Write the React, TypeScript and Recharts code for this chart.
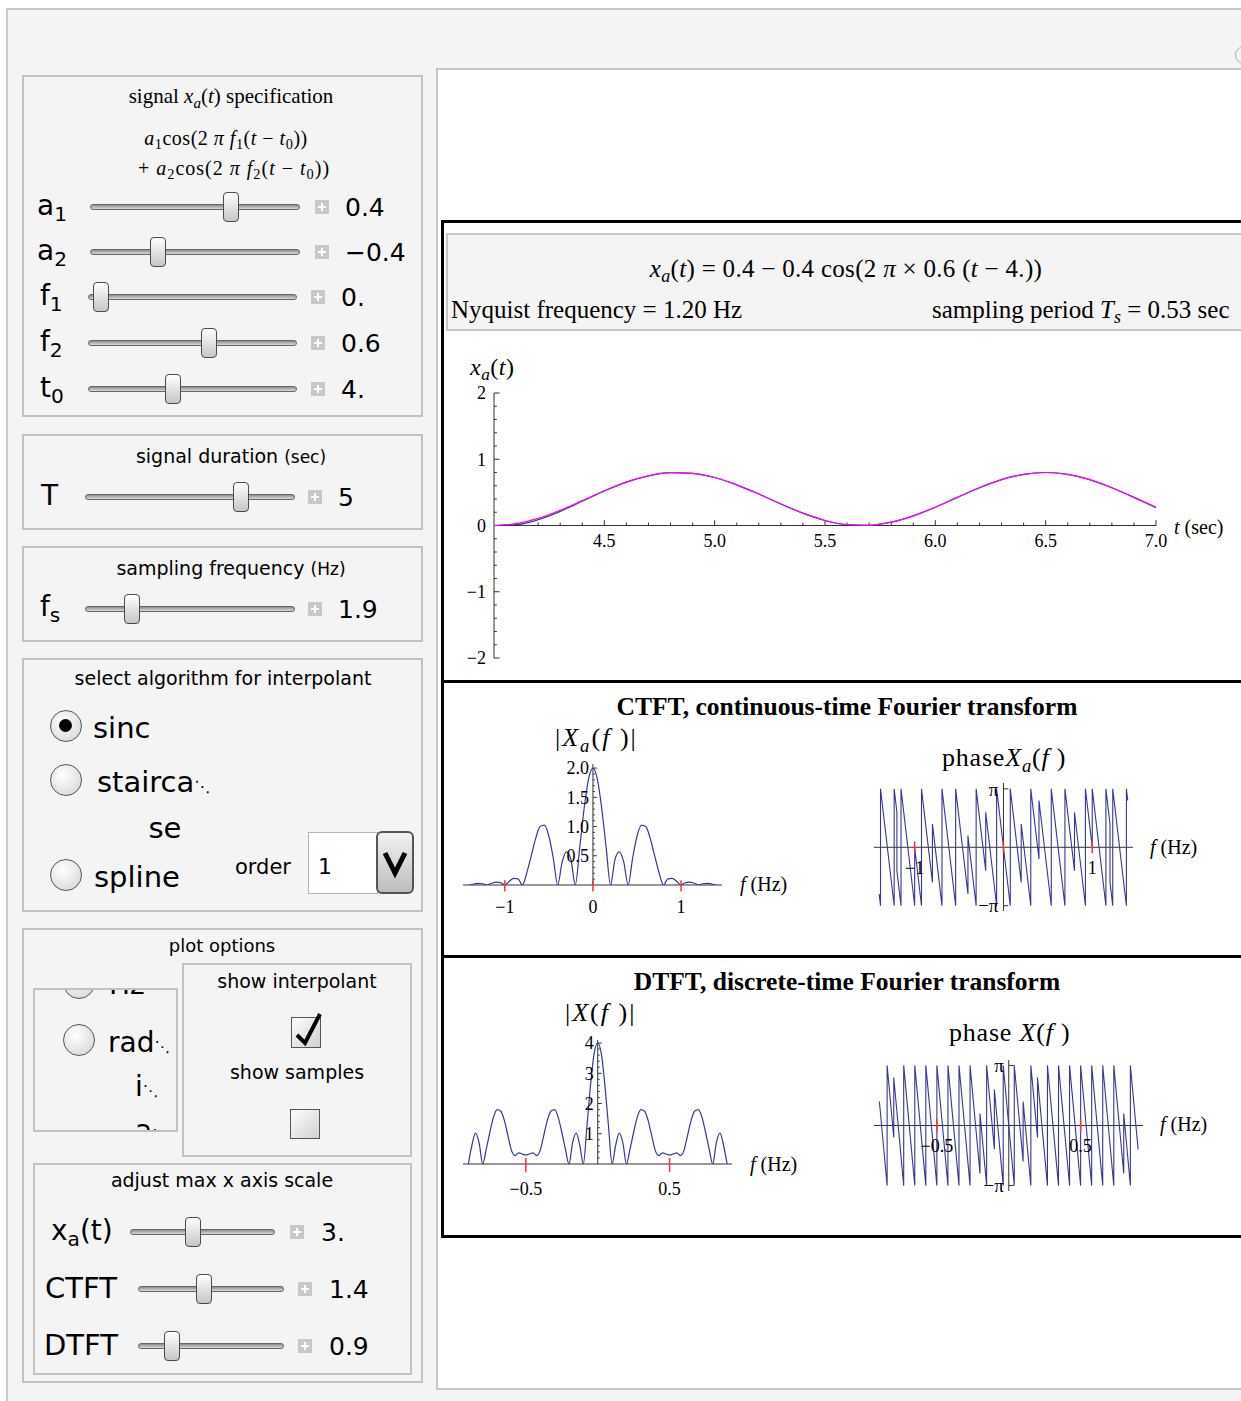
import React from "react";
import { LineChart, Line, XAxis, YAxis, ReferenceLine, ReferenceDot } from "recharts";

const SERIF = '"Liberation Serif", "Times New Roman", Times, serif';
const SANS = '"DejaVu Sans", Verdana, sans-serif';
const BLUE = "#37379a";
const MAGENTA = "#ff00ff";
const AXIS = "#333333";
const RED = "#ff3030";
const MINUS = "\u2212";

// x_a(t): original signal (magenta) and sinc interpolant (blue)
const tValues = [4.0, 4.1, 4.2, 4.3, 4.4, 4.5, 4.6, 4.7, 4.8, 4.9, 5.0, 5.1, 5.2, 5.3, 5.4, 5.5, 5.6, 5.7, 5.8, 5.9, 6.0, 6.1, 6.2, 6.3, 6.4, 6.5, 6.6, 6.7, 6.8, 6.9, 7.0];
const xaSignal = [0, 0.028, 0.108, 0.23, 0.375, 0.524, 0.655, 0.75, 0.797, 0.788, 0.724, 0.614, 0.475, 0.325, 0.186, 0.076, 0.012, 0.003, 0.05, 0.145, 0.276, 0.425, 0.57, 0.692, 0.772, 0.8, 0.772, 0.692, 0.57, 0.425, 0.276];
const xaInterp = [0, 0.012, 0.088, 0.214, 0.366, 0.52, 0.654, 0.75, 0.797, 0.788, 0.724, 0.614, 0.475, 0.325, 0.186, 0.076, 0.012, 0.003, 0.05, 0.145, 0.276, 0.425, 0.57, 0.692, 0.772, 0.8, 0.772, 0.692, 0.57, 0.425, 0.27];
const xaMajorT = [4.5, 5.0, 5.5, 6.0, 6.5, 7.0];
const xaMinorT = [4.1, 4.2, 4.3, 4.4, 4.6, 4.7, 4.8, 4.9, 5.1, 5.2, 5.3, 5.4, 5.6, 5.7, 5.8, 5.9, 6.1, 6.2, 6.3, 6.4, 6.6, 6.7, 6.8, 6.9];
const xaMajorY = [-2, -1, 0, 1, 2];
const xaMinorY = [-1.8, -1.6, -1.4, -1.2, -0.8, -0.6, -0.4, -0.2, 0.2, 0.4, 0.6, 0.8, 1.2, 1.4, 1.6, 1.8];

// CTFT magnitude
const ctftF = [-1.4, -1.35, -1.3, -1.25, -1.2, -1.15, -1.1, -1.05, -1.0, -0.95, -0.9, -0.85, -0.8, -0.75, -0.7, -0.65, -0.6, -0.55, -0.5, -0.45, -0.4, -0.35, -0.3, -0.25, -0.2, -0.15, -0.1, -0.05, 0, 0.05, 0.1, 0.15, 0.2, 0.25, 0.3, 0.35, 0.4, 0.45, 0.5, 0.55, 0.6, 0.65, 0.7, 0.75, 0.8, 0.85, 0.9, 0.95, 1.0, 1.05, 1.1, 1.15, 1.2, 1.25, 1.3, 1.35, 1.4];
const ctftMag = [0, 0.017, 0.027, 0.021, 0, 0.03, 0.048, 0.041, 0, 0.063, 0.113, 0.105, 0, 0.213, 0.504, 0.797, 1.0, 1.025, 0.834, 0.457, 0, 0.39, 0.566, 0.436, 0, 0.64, 1.309, 1.813, 2.0, 1.813, 1.309, 0.64, 0, 0.436, 0.566, 0.39, 0, 0.457, 0.834, 1.025, 1.0, 0.797, 0.504, 0.213, 0, 0.105, 0.113, 0.063, 0, 0.041, 0.048, 0.03, 0, 0.021, 0.027, 0.017, 0];
const ctftMajorY = [0.5, 1.0, 1.5, 2.0];
const ctftMinorY = [0.1, 0.2, 0.3, 0.4, 0.6, 0.7, 0.8, 0.9, 1.1, 1.2, 1.3, 1.4, 1.6, 1.7, 1.8, 1.9];
const ctftMarks = [-1, 0, 1];

// CTFT phase (units of pi), break points of the sawtooth
const ctftPhaseF = [-1.4, -1.3846, -1.3846, -1.2308, -1.2308, -1.2, -1.2, -1.1538, -1.1538, -1.0, -1.0, -0.9231, -0.9231, -0.8, -0.8, -0.6923, -0.6923, -0.5385, -0.5385, -0.4, -0.4, -0.3077, -0.3077, -0.2, -0.2, -0.0769, -0.0769, 0, 0.0769, 0.0769, 0.2, 0.2, 0.3077, 0.3077, 0.4, 0.4, 0.5385, 0.5385, 0.6923, 0.6923, 0.8, 0.8, 0.9231, 0.9231, 1.0, 1.0, 1.1538, 1.1538, 1.2, 1.2, 1.2308, 1.2308, 1.3846, 1.3846, 1.4];
const ctftPhaseP = [-0.8, -1, 1, -1, 1, 0.6, -0.4, -1, 1, -1, 0, -1, 1, -0.6, 0.4, -1, 1, -1, 1, -0.8, 0.2, -1, 1, -0.4, 0.6, -1, 1, 0, -1, 1, -0.6, 0.4, -1, 1, -0.2, 0.8, -1, 1, -1, 1, -0.4, 0.6, -1, 1, 0, 1, -1, 1, 0.4, -0.6, -1, 1, -1, 1, 0.8];
const ctftPhaseLabels = [-1, 1];

// DTFT magnitude
const dtftF = [-0.9, -0.875, -0.85, -0.825, -0.8, -0.775, -0.75, -0.725, -0.7, -0.675, -0.65, -0.625, -0.6, -0.575, -0.55, -0.525, -0.5, -0.475, -0.45, -0.425, -0.4, -0.375, -0.35, -0.325, -0.3, -0.275, -0.25, -0.225, -0.2, -0.175, -0.15, -0.125, -0.1, -0.075, -0.05, -0.025, 0, 0.025, 0.05, 0.075, 0.1, 0.125, 0.15, 0.175, 0.2, 0.225, 0.25, 0.275, 0.3, 0.325, 0.35, 0.375, 0.4, 0.425, 0.45, 0.475, 0.5, 0.525, 0.55, 0.575, 0.6, 0.625, 0.65, 0.675, 0.7, 0.725, 0.75, 0.775, 0.8, 0.825, 0.85, 0.875, 0.9];
const dtftMag = [0, 0.62, 1.02, 0.7, 0, 0.5, 1.05, 1.55, 1.8, 1.75, 1.45, 0.95, 0.45, 0.28, 0.37, 0.33, 0.3, 0.33, 0.37, 0.28, 0.45, 0.95, 1.45, 1.75, 1.8, 1.55, 1.05, 0.5, 0, 0.7, 1.02, 0.62, 0, 1.25, 2.6, 3.65, 4.0, 3.65, 2.6, 1.25, 0, 0.62, 1.02, 0.7, 0, 0.5, 1.05, 1.55, 1.8, 1.75, 1.45, 0.95, 0.45, 0.28, 0.37, 0.33, 0.3, 0.33, 0.37, 0.28, 0.45, 0.95, 1.45, 1.75, 1.8, 1.55, 1.05, 0.5, 0, 0.7, 1.02, 0.62, 0];
const dtftMajorY = [1, 2, 3, 4];
const dtftMinorY = [0.2, 0.4, 0.6, 0.8, 1.2, 1.4, 1.6, 1.8, 2.2, 2.4, 2.6, 2.8, 3.2, 3.4, 3.6, 3.8];
const dtftMarks = [-0.5, 0.5];

// DTFT phase (units of pi)
const dtftPhaseF = [-0.9, -0.8462, -0.8462, -0.8, -0.8, -0.7308, -0.7308, -0.6538, -0.6538, -0.5769, -0.5769, -0.5, -0.5, -0.4231, -0.4231, -0.3462, -0.3462, -0.2692, -0.2692, -0.2, -0.2, -0.1538, -0.1538, -0.1, -0.1, -0.0385, -0.0385, 0, 0.0385, 0.0385, 0.1, 0.1, 0.1538, 0.1538, 0.2, 0.2, 0.2692, 0.2692, 0.3462, 0.3462, 0.4231, 0.4231, 0.5, 0.5, 0.5769, 0.5769, 0.6538, 0.6538, 0.7308, 0.7308, 0.8, 0.8, 0.8462, 0.8462, 0.9];
const dtftPhaseP = [0.4, -1, 1, -0.2, 0.8, -1, 1, -1, 1, -1, 1, -1, 1, -1, 1, -1, 1, -1, 1, -0.8, 0.2, -1, 1, -0.4, 0.6, -1, 1, 0, -1, 1, -0.6, 0.4, -1, 1, -0.2, 0.8, -1, 1, -1, 1, -1, 1, -1, 1, -1, 1, -1, 1, -1, 1, -0.8, 0.2, -1, 1, -0.4];

const fmt = (v: number, d = 0) => (v < 0 ? MINUS : "") + Math.abs(v).toFixed(d);

const seg = (key: string, x1: number, y1: number, x2: number, y2: number, color = AXIS, w = 1) => (
  <ReferenceLine key={key} segment={[{ x: x1, y: y1 }, { x: x2, y: y2 }]} stroke={color} strokeWidth={w} ifOverflow="visible" />
);

const lbl = (key: string, x: number, y: number, text: string, position: "bottom" | "left", offset: number, size = 18) => (
  <ReferenceDot
    key={key}
    x={x}
    y={y}
    r={0}
    fill="none"
    stroke="none"
    ifOverflow="visible"
    label={{ value: text, position, offset, fill: "#000", fontSize: size }}
  />
);

function XaChart() {
  const data = tValues.map((t, i) => ({ t, sig: xaSignal[i], interp: xaInterp[i] }));
  return (
    <div style={{ position: "absolute", left: 444, top: 345, fontFamily: SERIF }}>
      <LineChart width={797} height={335} data={data} margin={{ top: 48, right: 85, bottom: 22, left: 50 }}>
        <XAxis type="number" dataKey="t" domain={[4, 7]} hide allowDataOverflow />
        <YAxis type="number" domain={[-2, 2]} hide allowDataOverflow />
        <ReferenceLine x={4} stroke={AXIS} ifOverflow="visible" />
        <ReferenceLine y={0} stroke={AXIS} ifOverflow="visible" />
        {xaMajorT.map((t) => seg(`tM${t}`, t, 0, t, 0.08))}
        {xaMinorT.map((t) => seg(`tm${t}`, t, 0, t, 0.045))}
        {xaMajorY.map((y) => seg(`yM${y}`, 4, y, 4.025, y))}
        {xaMinorY.map((y) => seg(`ym${y}`, 4, y, 4.013, y))}
        {xaMajorT.map((t) => lbl(`tl${t}`, t, 0, t.toFixed(1), "bottom", 9))}
        {xaMajorY.map((y) => lbl(`yl${y}`, 4, y, fmt(y), "left", 8))}
        <Line dataKey="interp" type="monotone" stroke={BLUE} strokeWidth={1.2} dot={false} isAnimationActive={false} />
        <Line dataKey="sig" type="monotone" stroke={MAGENTA} strokeWidth={1.2} dot={false} isAnimationActive={false} />
      </LineChart>
    </div>
  );
}

function CtftMagChart() {
  const data = ctftF.map((f, i) => ({ f, m: ctftMag[i] }));
  return (
    <div style={{ position: "absolute", left: 444, top: 740, fontFamily: SERIF }}>
      <LineChart width={400} height={200} data={data} margin={{ top: 24, right: 122, bottom: 55, left: 19 }}>
        <XAxis type="number" dataKey="f" domain={[-1.475, 1.465]} hide allowDataOverflow />
        <YAxis type="number" domain={[0, 2.07]} hide allowDataOverflow />
        <ReferenceLine y={0} stroke={AXIS} ifOverflow="visible" />
        <ReferenceLine x={0} stroke={AXIS} ifOverflow="visible" />
        {ctftMajorY.map((y) => seg(`cM${y}`, 0, y, 0.045, y))}
        {ctftMinorY.map((y) => seg(`cm${y}`, 0, y, 0.022, y))}
        {ctftMajorY.map((y) => lbl(`cl${y}`, 0, y, y.toFixed(1), "left", 4, 18))}
        <Line dataKey="m" type="monotone" stroke={BLUE} strokeWidth={1.2} dot={false} isAnimationActive={false} />
        {ctftMarks.map((f) => seg(`cr${f}`, f, -0.11, f, 0.08, RED, 1.5))}
        {ctftMarks.map((f) => lbl(`cx${f}`, f, 0, fmt(f), "bottom", 15))}
      </LineChart>
    </div>
  );
}

function CtftPhaseChart() {
  const data = ctftPhaseF.map((f, i) => ({ f, p: ctftPhaseP[i] }));
  return (
    <div style={{ position: "absolute", left: 860, top: 770, fontFamily: SERIF }}>
      <LineChart width={381} height={160} data={data} margin={{ top: 13, right: 108, bottom: 19, left: 14 }}>
        <XAxis type="number" dataKey="f" domain={[-1.458, 1.459]} hide allowDataOverflow />
        <YAxis type="number" domain={[-1.09, 1.1]} hide allowDataOverflow />
        <ReferenceLine y={0} stroke={AXIS} ifOverflow="visible" />
        <ReferenceLine x={0} stroke={AXIS} ifOverflow="visible" />
        {seg("pt1", 0, 1, 0.055, 1)}
        {seg("pt2", 0, -1, 0.055, -1)}
        <Line dataKey="p" type="linear" stroke={BLUE} strokeWidth={1.1} dot={false} isAnimationActive={false} />
        {ctftMarks.map((f) => seg(`pr${f}`, f, -0.1, f, 0.1, RED, 1.5))}
        {lbl("pl1", 0, 1, "\u03c0", "left", 5, 19)}
        {lbl("pl2", 0, -1, MINUS + "\u03c0", "left", 5, 19)}
        {ctftPhaseLabels.map((f) => lbl(`px${f}`, f, 0, fmt(f), "bottom", 14))}
      </LineChart>
    </div>
  );
}

function DtftMagChart() {
  const data = dtftF.map((f, i) => ({ f, m: dtftMag[i] }));
  return (
    <div style={{ position: "absolute", left: 444, top: 1020, fontFamily: SERIF }}>
      <LineChart width={410} height={200} data={data} margin={{ top: 20, right: 122, bottom: 56, left: 19 }}>
        <XAxis type="number" dataKey="f" domain={[-0.937, 0.934]} hide allowDataOverflow />
        <YAxis type="number" domain={[0, 4.1]} hide allowDataOverflow />
        <ReferenceLine y={0} stroke={AXIS} ifOverflow="visible" />
        <ReferenceLine x={0} stroke={AXIS} ifOverflow="visible" />
        {dtftMajorY.map((y) => seg(`dM${y}`, 0, y, 0.028, y))}
        {dtftMinorY.map((y) => seg(`dm${y}`, 0, y, 0.014, y))}
        {dtftMajorY.map((y) => lbl(`dl${y}`, 0, y, String(y), "left", 4, 18))}
        <Line dataKey="m" type="monotone" stroke={BLUE} strokeWidth={1.2} dot={false} isAnimationActive={false} />
        {dtftMarks.map((f) => seg(`dr${f}`, f, -0.27, f, 0.2, RED, 1.5))}
        {dtftMarks.map((f) => lbl(`dx${f}`, f, 0, fmt(f, 1), "bottom", 18))}
      </LineChart>
    </div>
  );
}

function DtftPhaseChart() {
  const data = dtftPhaseF.map((f, i) => ({ f, p: dtftPhaseP[i] }));
  return (
    <div style={{ position: "absolute", left: 860, top: 1045, fontFamily: SERIF }}>
      <LineChart width={381} height={165} data={data} margin={{ top: 15, right: 98, bottom: 19, left: 14 }}>
        <XAxis type="number" dataKey="f" domain={[-0.9375, 0.934]} hide allowDataOverflow />
        <YAxis type="number" domain={[-1.09, 1.09]} hide allowDataOverflow />
        <ReferenceLine y={0} stroke={AXIS} ifOverflow="visible" />
        <ReferenceLine x={0} stroke={AXIS} ifOverflow="visible" />
        {seg("qt1", 0, 1, 0.035, 1)}
        {seg("qt2", 0, -1, 0.035, -1)}
        <Line dataKey="p" type="linear" stroke={BLUE} strokeWidth={1.1} dot={false} isAnimationActive={false} />
        {dtftMarks.map((f) => seg(`qr${f}`, f, -0.11, f, 0.11, RED, 1.5))}
        {lbl("ql1", 0, 1, "\u03c0", "left", 5, 19)}
        {lbl("ql2", 0, -1, MINUS + "\u03c0", "left", 5, 19)}
        {dtftMarks.map((f) => lbl(`qx${f}`, f, 0, fmt(f, 1), "bottom", 14))}
      </LineChart>
    </div>
  );
}

// ---------- control panel pieces ----------
const abs = (x: number, y: number, w?: number, h?: number): React.CSSProperties => ({
  position: "absolute", left: x, top: y, width: w, height: h, boxSizing: "border-box",
});

function Txt({ x, y, size, font = SANS, center = false, weight, spacing, children }: {
  x: number; y: number; size: number; font?: string; center?: boolean; weight?: number; spacing?: number; children: React.ReactNode;
}) {
  const lh = Math.round(size * 1.3);
  return (
    <div style={{
      position: "absolute", left: center ? x - 400 : x, width: center ? 800 : undefined, top: y - lh / 2,
      fontSize: size, lineHeight: `${lh}px`, fontFamily: font, fontWeight: weight, letterSpacing: spacing,
      textAlign: center ? "center" : "left", whiteSpace: "nowrap", color: "#000",
    }}>{children}</div>
  );
}

const Sub = ({ children }: { children: React.ReactNode }) => (
  <sub style={{ fontSize: "0.72em", verticalAlign: "-0.3em", lineHeight: 0 }}>{children}</sub>
);

function Box({ x, y, w, h, bg = "#f4f4f4", children }: { x: number; y: number; w: number; h: number; bg?: string; children?: React.ReactNode }) {
  return <div style={{ ...abs(x, y, w, h), border: "2px solid #c2c2c2", background: bg, overflow: "hidden" }}>{children}</div>;
}

function Slider({ y, x1, x2, thumb, plus, value, valueX }: { y: number; x1: number; x2: number; thumb: number; plus: number; value: string; valueX: number }) {
  return (
    <>
      <div style={{ ...abs(x1, y - 3, x2 - x1, 6), borderRadius: 3, border: "1px solid #666", background: "linear-gradient(#8c8c8c, #dadada)" }} />
      <div style={{ ...abs(thumb - 8, y - 15, 16, 30), borderRadius: 4, border: "1px solid #4a4a4a", background: "linear-gradient(#ffffff, #c6c6c6)" }} />
      <div style={{ ...abs(plus - 7, y - 7, 14, 14), background: "#c8c8c8" }}>
        <div style={{ ...abs(3, 6, 8, 2), background: "#fff" }} />
        <div style={{ ...abs(6, 3, 2, 8), background: "#fff" }} />
      </div>
      <Txt x={valueX} y={y} size={25}>{value}</Txt>
    </>
  );
}

function Radio({ x, y, on = false }: { x: number; y: number; on?: boolean }) {
  return (
    <div style={{ ...abs(x - 16, y - 16, 32, 32), borderRadius: "50%", border: "1.5px solid #555", background: "radial-gradient(circle at 40% 35%, #ffffff, #d2d2d2)" }}>
      {on && <div style={{ ...abs(8, 8, 13, 13), borderRadius: "50%", background: "#000" }} />}
    </div>
  );
}

function CheckBox({ x, y, w, h, on = false }: { x: number; y: number; w: number; h: number; on?: boolean }) {
  return (
    <div style={{ ...abs(x, y, w, h), border: "1.5px solid #555", background: "linear-gradient(135deg, #ffffff, #d0d0d0)", overflow: "visible" }}>
      {on && (
        <svg width={w + 6} height={h + 6} style={{ position: "absolute", left: 0, top: -8 }}>
          <path d={`M 5 ${h - 6} L 13 ${h + 2} L ${w - 2} 4`} stroke="#000" strokeWidth={4} fill="none" />
        </svg>
      )}
    </div>
  );
}

const Dots = () => <span style={{ fontSize: "0.55em" }}>{"\u22f1"}</span>;

function Controls() {
  return (
    <>
      {/* signal specification */}
      <Box x={22} y={75} w={401} h={342} />
      <Txt x={231} y={96} size={21} font={SERIF} center>signal <i>x<Sub>a</Sub></i>(<i>t</i>) specification</Txt>
      <Txt x={226} y={138} size={20} font={SERIF} center spacing={0.5}><i>a</i><Sub>1</Sub>cos(2 <i>π f</i><Sub>1</Sub>(<i>t</i> − <i>t</i><Sub>0</Sub>))</Txt>
      <Txt x={234} y={168} size={20} font={SERIF} center spacing={1}>+ <i>a</i><Sub>2</Sub>cos(2 <i>π f</i><Sub>2</Sub>(<i>t</i> − <i>t</i><Sub>0</Sub>))</Txt>
      <Txt x={37} y={206} size={28}>a<Sub>1</Sub></Txt>
      <Slider y={207} x1={90} x2={300} thumb={231} plus={322} value="0.4" valueX={345} />
      <Txt x={37} y={251} size={28}>a<Sub>2</Sub></Txt>
      <Slider y={252} x1={90} x2={300} thumb={158} plus={322} value={"\u22120.4"} valueX={345} />
      <Txt x={40} y={296} size={28}>f<Sub>1</Sub></Txt>
      <Slider y={297} x1={88} x2={297} thumb={101} plus={318} value="0." valueX={341} />
      <Txt x={40} y={342} size={28}>f<Sub>2</Sub></Txt>
      <Slider y={343} x1={88} x2={297} thumb={209} plus={318} value="0.6" valueX={341} />
      <Txt x={40} y={388} size={28}>t<Sub>0</Sub></Txt>
      <Slider y={389} x1={88} x2={297} thumb={173} plus={318} value="4." valueX={341} />

      {/* duration */}
      <Box x={22} y={434} w={401} h={96} />
      <Txt x={231} y={456} size={19} center>signal duration <span style={{ fontSize: 17 }}>(sec)</span></Txt>
      <Txt x={41} y={496} size={28}>T</Txt>
      <Slider y={497} x1={85} x2={295} thumb={241} plus={315} value="5" valueX={338} />

      {/* sampling */}
      <Box x={22} y={546} w={401} h={96} />
      <Txt x={231} y={568} size={19} center>sampling frequency <span style={{ fontSize: 17 }}>(Hz)</span></Txt>
      <Txt x={40} y={607} size={28}>f<Sub>s</Sub></Txt>
      <Slider y={609} x1={85} x2={295} thumb={132} plus={315} value="1.9" valueX={338} />

      {/* interpolant */}
      <Box x={22} y={658} w={401} h={254} />
      <Txt x={223} y={678} size={19} center>select algorithm for interpolant</Txt>
      <Radio x={66} y={726} on />
      <Txt x={93} y={728} size={29}>sinc</Txt>
      <Radio x={66} y={780} />
      <Txt x={97} y={782} size={29}>stairca<Dots /></Txt>
      <Txt x={165} y={828} size={29} center>se</Txt>
      <Radio x={66} y={875} />
      <Txt x={94} y={877} size={29}>spline</Txt>
      <Txt x={235} y={867} size={21}>order</Txt>
      <div style={{ ...abs(308, 832, 70, 62), background: "#fff", border: "1px solid #b4b4b4" }} />
      <Txt x={318} y={866} size={22}>1</Txt>
      <div style={{ ...abs(376, 831, 38, 63), borderRadius: 6, border: "2px solid #555", background: "linear-gradient(#f2f2f2, #bdbdbd)" }}>
        <svg width={34} height={59} style={{ position: "absolute", left: 0, top: 0 }}>
          <path d="M 7 20 L 17 40 L 27 20" stroke="#000" strokeWidth={5} fill="none" />
        </svg>
      </div>

      {/* plot options */}
      <Box x={22} y={928} w={401} h={455} />
      <Txt x={222} y={945} size={18} center>plot options</Txt>
      <Box x={33} y={988} w={145} h={144}>
        <Radio x={44} y={-7} />
        <Txt x={74} y={-5} size={28}>Hz</Txt>
        <Radio x={44} y={50} />
        <Txt x={73} y={53} size={28}>rad<Dots /></Txt>
        <Txt x={100} y={97} size={28}>i<Dots /></Txt>
        <Txt x={100} y={141} size={28}>a<Dots /></Txt>
      </Box>
      <Box x={182} y={963} w={230} h={194} />
      <Txt x={297} y={981} size={19} center>show interpolant</Txt>
      <CheckBox x={291} y={1017} w={30} h={31} on />
      <Txt x={297} y={1072} size={19} center>show samples</Txt>
      <CheckBox x={290} y={1109} w={30} h={30} />

      <Box x={33} y={1163} w={379} h={212} />
      <Txt x={222} y={1180} size={19} center>adjust max x axis scale</Txt>
      <Txt x={51} y={1231} size={28}>x<Sub>a</Sub>(t)</Txt>
      <Slider y={1232} x1={130} x2={275} thumb={193} plus={297} value="3." valueX={321} />
      <Txt x={45} y={1288} size={29}>CTFT</Txt>
      <Slider y={1289} x1={138} x2={284} thumb={204} plus={305} value="1.4" valueX={329} />
      <Txt x={44} y={1345} size={29}>DTFT</Txt>
      <Slider y={1346} x1={138} x2={284} thumb={172} plus={305} value="0.9" valueX={329} />
    </>
  );
}

function Plots() {
  return (
    <>
      <div style={{ ...abs(436, 68, 830, 1322), border: "2px solid #c6c6c6", background: "#fff" }} />
      <div style={{ ...abs(441, 220, 830, 1018), borderTop: "3px solid #000", borderLeft: "3px solid #000", borderBottom: "3px solid #000" }} />
      <div style={{ ...abs(441, 680, 830, 3), background: "#000" }} />
      <div style={{ ...abs(441, 955, 830, 3), background: "#000" }} />
      <div style={{ ...abs(446, 233, 830, 98), border: "2px solid #c6c6c6", background: "#f4f4f4" }} />
      <Txt x={846} y={268} size={25} font={SERIF} center spacing={0.3}>
        <i>x<Sub>a</Sub></i>(<i>t</i>) = 0.4 − 0.4 cos(2 <i>π</i> × 0.6 (<i>t</i> − 4.))
      </Txt>
      <Txt x={451} y={309} size={25} font={SERIF}>Nyquist frequency = 1.20 Hz</Txt>
      <Txt x={932} y={309} size={25} font={SERIF}>sampling period <i>T<Sub>s</Sub></i> = 0.53 sec</Txt>

      <Txt x={470} y={367} size={24} font={SERIF} spacing={0.5}><i>x<Sub>a</Sub></i>(<i>t</i>)</Txt>
      <Txt x={1174} y={527} size={20} font={SERIF}><i>t</i> (sec)</Txt>
      <XaChart />

      <Txt x={847} y={706} size={25.5} font={SERIF} center weight={700}>CTFT, continuous-time Fourier transform</Txt>
      <Txt x={555} y={738} size={26} font={SERIF} spacing={2}>|<i>X<Sub>a</Sub></i>(<i>f</i> )|</Txt>
      <Txt x={942} y={758} size={26} font={SERIF} spacing={0.8}>phase<i>X<Sub>a</Sub></i>(<i>f</i> )</Txt>
      <Txt x={740} y={884} size={20} font={SERIF}><i>f</i> (Hz)</Txt>
      <Txt x={1150} y={847} size={20} font={SERIF}><i>f</i> (Hz)</Txt>
      <CtftMagChart />
      <CtftPhaseChart />

      <Txt x={847} y={981} size={25.5} font={SERIF} center weight={700}>DTFT, discrete-time Fourier transform</Txt>
      <Txt x={565} y={1013} size={26} font={SERIF} spacing={2}>|<i>X</i>(<i>f</i> )|</Txt>
      <Txt x={949} y={1033} size={26} font={SERIF} spacing={0.8}>phase <i>X</i>(<i>f</i> )</Txt>
      <Txt x={750} y={1164} size={20} font={SERIF}><i>f</i> (Hz)</Txt>
      <Txt x={1160} y={1124} size={20} font={SERIF}><i>f</i> (Hz)</Txt>
      <DtftMagChart />
      <DtftPhaseChart />
    </>
  );
}

export default function App() {
  return (
    <div style={{ position: "absolute", left: 0, top: 0, width: 1241, height: 1401, overflow: "hidden", background: "#fff" }}>
      <div style={{ ...abs(6, 8, 1260, 1400), border: "2px solid #c8c8c8", background: "#f4f4f4" }} />
      <div style={{ ...abs(1235, 46, 18, 18), borderRadius: "50%", border: "1.5px solid #b0b0b0" }} />
      <Controls />
      <Plots />
    </div>
  );
}
